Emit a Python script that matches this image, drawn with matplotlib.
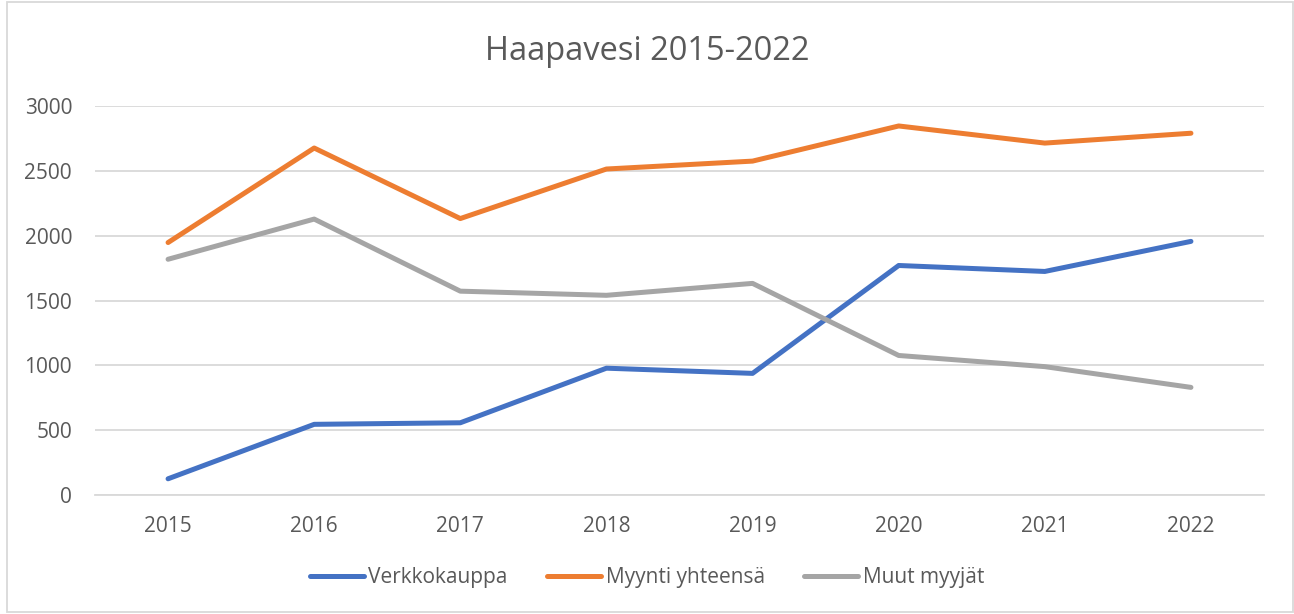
import numpy as np
import matplotlib.pyplot as plt
from matplotlib.patches import Rectangle

years = ['2015', '2016', '2017', '2018', '2019', '2020', '2021', '2022']
verkkokauppa = [125, 545, 557, 978, 938, 1770, 1724, 1956]
myynti_yhteensa = [1947, 2676, 2132, 2514, 2575, 2846, 2714, 2790]
muut_myyjat = [1818, 2128, 1572, 1540, 1632, 1076, 990, 830]

plt.rcParams['font.family'] = ['Open Sans', 'DejaVu Sans']

fig = plt.figure(figsize=(12.94, 6.14), dpi=100)
ax = fig.add_axes([95 / 1294, 1 - 495 / 614, (1264 - 95) / 1294, 389 / 614])

x = np.arange(len(years))
series = [
    ('Verkkokauppa', verkkokauppa, '#4472C4'),
    ('Myynti yhteensä', myynti_yhteensa, '#ED7D31'),
    ('Muut myyjät', muut_myyjat, '#A5A5A5'),
]
for name, vals, col in series:
    ax.plot(x, vals, color=col, lw=3.6, solid_capstyle='round',
            solid_joinstyle='round', label=name, zorder=3)

ax.set_xlim(-0.5, len(years) - 0.5)
ax.set_ylim(0, 3000)
ax.set_yticks(range(0, 3001, 500))
ax.set_xticks(x)
ax.set_xticklabels(years)
ax.grid(axis='y', color='#d9d9d9', lw=1.3)
ax.set_axisbelow(True)
for s in ['top', 'right', 'left']:
    ax.spines[s].set_visible(False)
ax.spines['bottom'].set_color('#d9d9d9')
ax.spines['bottom'].set_linewidth(1.3)
ax.tick_params(length=0, labelsize=15, colors='#595959')
ax.tick_params(axis='y', pad=16.5)
ax.tick_params(axis='x', pad=15)

fig.text(0.5, 1 - 51 / 614, 'Haapavesi 2015-2022', ha='center', va='center',
         fontsize=23.5, color='#595959')

leg = fig.legend(loc='center', bbox_to_anchor=(0.5, 1 - 578 / 614), ncol=3,
                 frameon=False, fontsize=15, handlelength=2.6,
                 columnspacing=1.9, handletextpad=0.2)
for t in leg.get_texts():
    t.set_color('#595959')

fig.patches.append(Rectangle((7 / 1294, 2 / 614), 1286 / 1294, 610 / 614,
                             transform=fig.transFigure, fill=False,
                             edgecolor='#d9d9d9', lw=1.3))

fig.savefig('out.png', dpi=100)
